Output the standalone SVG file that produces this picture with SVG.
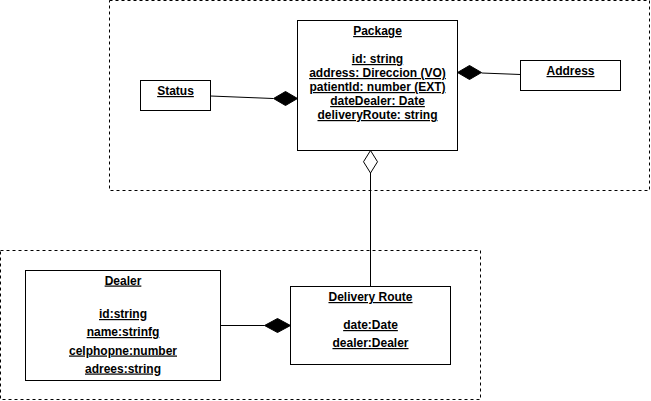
<svg xmlns="http://www.w3.org/2000/svg" width="651" height="401" viewBox="0 0 651 401">
<style>
.frame{fill:none;stroke:#000;stroke-width:1;stroke-dasharray:3 3}
.box{fill:#fff;stroke:#000;stroke-width:1}
.t{font-family:"Liberation Sans",Arial,sans-serif;font-size:12px;font-weight:bold;text-decoration:underline;text-anchor:middle;fill:#000}
.ln{fill:none;stroke:#000;stroke-width:1}
.fd{fill:#000;stroke:#000;stroke-width:1}
.hd{fill:#fff;stroke:#000;stroke-width:1}
</style>
<rect class="frame" x="109.5" y="0.5" width="540" height="190"/>
<rect class="frame" x="0.5" y="250.5" width="480" height="149"/>
<g id="connectors">
<line class="ln" x1="210.5" y1="96" x2="273" y2="98.5"/>
<polygon class="fd" points="297.5,98.5 285.5,91.5 273.5,98.5 285.5,105.5"/>
<line class="ln" x1="520.5" y1="74.5" x2="481.5" y2="73"/>
<polygon class="fd" points="457.5,72.5 469.5,65.5 481.5,72.5 469.5,79.5"/>
<line class="ln" x1="370.5" y1="173" x2="370.5" y2="286.5"/>
<polygon class="hd" points="370.5,150.5 377.5,161.75 370.5,173 363.5,161.75"/>
<line class="ln" x1="220.5" y1="325.5" x2="264.5" y2="325.5"/>
<polygon class="fd" points="290.5,325.5 277.5,318.5 264.5,325.5 277.5,332.5"/>
</g>
<g id="package">
<rect class="box" x="297.5" y="20.5" width="160" height="130"/>
<text class="t" x="377.5" y="35">Package</text>
<text class="t" x="377.5" y="63">id: string</text>
<text class="t" x="377.5" y="77">address: Direccion (VO)</text>
<text class="t" x="377.5" y="91">patientId: number (EXT)</text>
<text class="t" x="377.5" y="105">dateDealer: Date</text>
<text class="t" x="377.5" y="119">deliveryRoute: string</text>
</g>
<g id="status">
<rect class="box" x="140.5" y="80.5" width="70" height="30"/>
<text class="t" x="175.5" y="95">Status</text>
</g>
<g id="address">
<rect class="box" x="520.5" y="60.5" width="100" height="30"/>
<text class="t" x="570.5" y="75">Address</text>
</g>
<g id="dealer">
<rect class="box" x="25.5" y="270.5" width="195" height="110"/>
<text class="t" x="123" y="284.5">Dealer</text>
<text class="t" x="123" y="318">id:string</text>
<text class="t" x="123" y="336">name:strinfg</text>
<text class="t" x="123" y="354.5">celphopne:number</text>
<text class="t" x="123" y="372.5">adrees:string</text>
</g>
<g id="deliveryRoute">
<rect class="box" x="290.5" y="286.5" width="160" height="78"/>
<text class="t" x="370.5" y="301">Delivery Route</text>
<text class="t" x="370.5" y="329">date:Date</text>
<text class="t" x="370.5" y="347">dealer:Dealer</text>
</g>
</svg>
